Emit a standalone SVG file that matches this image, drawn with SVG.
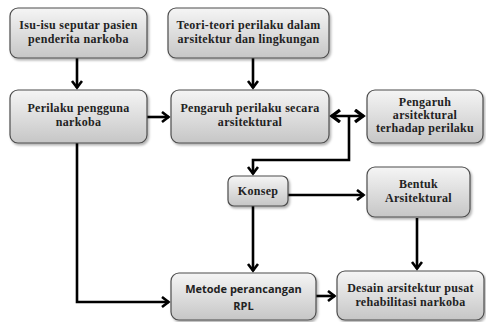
<svg xmlns="http://www.w3.org/2000/svg" width="486" height="322" viewBox="0 0 486 322">
<defs>
<linearGradient id="g" x1="0" y1="0" x2="0" y2="1">
<stop offset="0" stop-color="#f5f5f5"/>
<stop offset="1" stop-color="#c6c6c6"/>
</linearGradient>
<filter id="sh" x="-10%" y="-10%" width="130%" height="140%">
<feDropShadow dx="1.5" dy="2" stdDeviation="1.2" flood-color="#000" flood-opacity="0.3"/>
</filter>
<marker id="ah" markerUnits="userSpaceOnUse" markerWidth="12" markerHeight="14" refX="8" refY="6" orient="auto">
<path d="M1,1 L7.5,6 L1,11" fill="none" stroke="#000" stroke-width="2.6"/>
</marker>
<marker id="ah2" markerUnits="userSpaceOnUse" markerWidth="14" markerHeight="16" refX="10" refY="7" orient="auto-start-reverse">
<path d="M1,1 L9,7 L1,13" fill="none" stroke="#000" stroke-width="3.4"/>
</marker>
</defs>
<style>
.b{fill:url(#g);stroke:#4d4d4d;stroke-width:1.2;filter:url(#sh)}
.t{font-family:"Liberation Serif",serif;font-weight:bold;font-size:12px;letter-spacing:0.3px;fill:#222;text-anchor:middle}
.s{font-family:"Open Sans","Liberation Sans",sans-serif;font-weight:bold;font-size:11px;fill:#222;text-anchor:middle}
.c{fill:none;stroke:#000;stroke-width:2.6}
</style>
<rect width="486" height="322" fill="#fff"/>
<g id="connectors">
<path class="c" d="M77,58 V88" marker-end="url(#ah)"/>
<path class="c" d="M253,58 V88" marker-end="url(#ah)"/>
<path class="c" d="M147,117 H169" marker-end="url(#ah)"/>
<path class="c" d="M331,116 H364" stroke-width="3.4" marker-start="url(#ah2)" marker-end="url(#ah2)"/>
<path class="c" d="M349,116 V160 H253 V174" stroke-width="3" marker-end="url(#ah)"/>
<path class="c" d="M288,195 H364" marker-end="url(#ah)"/>
<path class="c" d="M253,206 V271" marker-end="url(#ah)"/>
<path class="c" d="M417,218 V269" marker-end="url(#ah)"/>
<path class="c" d="M77,143 V302 H169" marker-end="url(#ah)"/>
<path class="c" d="M316,296 H335" marker-end="url(#ah)"/>
</g>
<g id="n1"><rect class="b" x="10" y="8" width="137" height="50" rx="8"/>
<text class="t" x="78.5" y="29">Isu-isu seputar pasien</text><text class="t" x="78.5" y="43">penderita narkoba</text></g>
<g id="n2"><rect class="b" x="168" y="8" width="161" height="50" rx="8"/>
<text class="t" x="248.5" y="29">Teori-teori perilaku dalam</text><text class="t" x="248.5" y="43">arsitektur dan lingkungan</text></g>
<g id="n3"><rect class="b" x="10" y="90" width="137" height="53" rx="8"/>
<text class="t" x="78.5" y="112">Perilaku pengguna</text><text class="t" x="78.5" y="126">narkoba</text></g>
<g id="n4"><rect class="b" x="171" y="90" width="158" height="53" rx="8"/>
<text class="t" x="250" y="112">Pengaruh perilaku secara</text><text class="t" x="250" y="126">arsitektural</text></g>
<g id="n5"><rect class="b" x="367" y="90" width="116" height="53" rx="8"/>
<text class="t" x="425" y="106">Pengaruh</text><text class="t" x="425" y="119">arsitektural</text><text class="t" x="425" y="132">terhadap perilaku</text></g>
<g id="n6"><rect class="b" x="228" y="176" width="60" height="30" rx="6"/>
<text class="t" x="258" y="195">Konsep</text></g>
<g id="n7"><rect class="b" x="367" y="167" width="103" height="50" rx="8"/>
<text class="t" x="418.5" y="188">Bentuk</text><text class="t" x="418.5" y="202">Arsitektural</text></g>
<g id="n8"><rect class="b" x="171" y="273" width="145" height="47" rx="8"/>
<text class="s" x="243.5" y="293">Metode perancangan</text><text class="s" x="243.5" y="310">RPL</text></g>
<g id="n9"><rect class="b" x="337" y="271" width="147" height="49" rx="8"/>
<text class="t" x="410.5" y="292">Desain arsitektur pusat</text><text class="t" x="410.5" y="306">rehabilitasi narkoba</text></g>
</svg>
